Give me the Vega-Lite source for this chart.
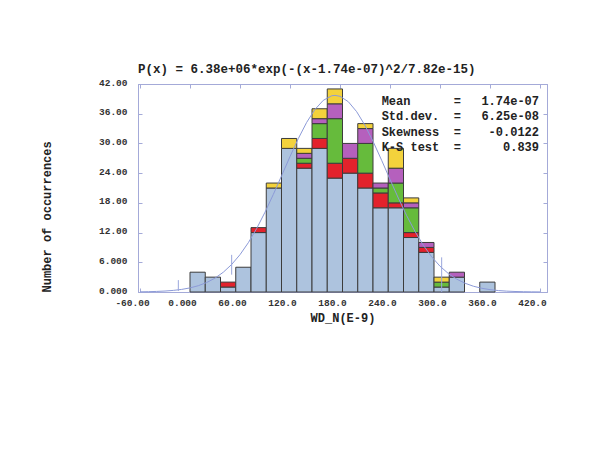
{
  "$schema": "https://vega.github.io/schema/vega-lite/v6.json",
  "width": 409,
  "height": 208,
  "autosize": {"type": "none"},
  "padding": {"left": 138, "top": 84, "right": 67, "bottom": 163},
  "background": "white",
  "title": {
    "text": "P(x) = 6.38e+06*exp(-(x-1.74e-07)^2/7.82e-15)",
    "anchor": "start",
    "frame": "group",
    "font": "Liberation Mono",
    "fontSize": 12.5,
    "fontWeight": "bold",
    "color": "#222222",
    "offset": 2
  },
  "config": {
    "view": {"stroke": "#a4aad8", "strokeWidth": 1},
    "axis": {
      "grid": false,
      "domainColor": "#a4aad8",
      "tickColor": "#a4aad8",
      "labelFont": "Liberation Mono",
      "labelFontSize": 9.5,
      "labelFontWeight": "bold",
      "labelColor": "#333333",
      "titleFont": "Liberation Mono",
      "titleFontSize": 12,
      "titleFontWeight": "bold",
      "titleColor": "#222222"
    }
  },
  "datasets": {
    "bars": [
      {"bin_start": 0, "bin_end": 18.3, "series": "A", "count": 4},
      {"bin_start": 18.3, "bin_end": 36.6, "series": "A", "count": 3},
      {"bin_start": 36.6, "bin_end": 54.9, "series": "A", "count": 1},
      {"bin_start": 36.6, "bin_end": 54.9, "series": "B", "count": 1},
      {"bin_start": 54.9, "bin_end": 73.2, "series": "A", "count": 5},
      {"bin_start": 73.2, "bin_end": 91.5, "series": "A", "count": 12},
      {"bin_start": 73.2, "bin_end": 91.5, "series": "B", "count": 1},
      {"bin_start": 91.5, "bin_end": 109.8, "series": "A", "count": 21},
      {"bin_start": 91.5, "bin_end": 109.8, "series": "E", "count": 1},
      {"bin_start": 109.8, "bin_end": 128.1, "series": "A", "count": 29},
      {"bin_start": 109.8, "bin_end": 128.1, "series": "E", "count": 2},
      {"bin_start": 128.1, "bin_end": 146.4, "series": "A", "count": 25},
      {"bin_start": 128.1, "bin_end": 146.4, "series": "B", "count": 1},
      {"bin_start": 128.1, "bin_end": 146.4, "series": "C", "count": 1},
      {"bin_start": 128.1, "bin_end": 146.4, "series": "D", "count": 1},
      {"bin_start": 128.1, "bin_end": 146.4, "series": "E", "count": 1},
      {"bin_start": 146.4, "bin_end": 164.7, "series": "A", "count": 29},
      {"bin_start": 146.4, "bin_end": 164.7, "series": "B", "count": 2},
      {"bin_start": 146.4, "bin_end": 164.7, "series": "C", "count": 3},
      {"bin_start": 146.4, "bin_end": 164.7, "series": "D", "count": 1},
      {"bin_start": 146.4, "bin_end": 164.7, "series": "E", "count": 2},
      {"bin_start": 164.7, "bin_end": 183, "series": "A", "count": 23},
      {"bin_start": 164.7, "bin_end": 183, "series": "B", "count": 3},
      {"bin_start": 164.7, "bin_end": 183, "series": "C", "count": 9},
      {"bin_start": 164.7, "bin_end": 183, "series": "D", "count": 3},
      {"bin_start": 164.7, "bin_end": 183, "series": "E", "count": 3},
      {"bin_start": 183, "bin_end": 201.3, "series": "A", "count": 24},
      {"bin_start": 183, "bin_end": 201.3, "series": "B", "count": 3},
      {"bin_start": 183, "bin_end": 201.3, "series": "D", "count": 3},
      {"bin_start": 201.3, "bin_end": 219.6, "series": "A", "count": 21},
      {"bin_start": 201.3, "bin_end": 219.6, "series": "B", "count": 3},
      {"bin_start": 201.3, "bin_end": 219.6, "series": "C", "count": 6},
      {"bin_start": 201.3, "bin_end": 219.6, "series": "D", "count": 3},
      {"bin_start": 201.3, "bin_end": 219.6, "series": "E", "count": 1},
      {"bin_start": 219.6, "bin_end": 237.9, "series": "A", "count": 17},
      {"bin_start": 219.6, "bin_end": 237.9, "series": "B", "count": 3},
      {"bin_start": 219.6, "bin_end": 237.9, "series": "C", "count": 1},
      {"bin_start": 219.6, "bin_end": 237.9, "series": "D", "count": 1},
      {"bin_start": 237.9, "bin_end": 256.2, "series": "A", "count": 17},
      {"bin_start": 237.9, "bin_end": 256.2, "series": "B", "count": 1},
      {"bin_start": 237.9, "bin_end": 256.2, "series": "C", "count": 4},
      {"bin_start": 237.9, "bin_end": 256.2, "series": "D", "count": 3},
      {"bin_start": 237.9, "bin_end": 256.2, "series": "E", "count": 4},
      {"bin_start": 256.2, "bin_end": 274.5, "series": "A", "count": 11},
      {"bin_start": 256.2, "bin_end": 274.5, "series": "B", "count": 1},
      {"bin_start": 256.2, "bin_end": 274.5, "series": "C", "count": 5},
      {"bin_start": 256.2, "bin_end": 274.5, "series": "D", "count": 1},
      {"bin_start": 256.2, "bin_end": 274.5, "series": "E", "count": 1},
      {"bin_start": 274.5, "bin_end": 292.8, "series": "A", "count": 8},
      {"bin_start": 274.5, "bin_end": 292.8, "series": "B", "count": 1},
      {"bin_start": 274.5, "bin_end": 292.8, "series": "D", "count": 1},
      {"bin_start": 292.8, "bin_end": 311.1, "series": "A", "count": 1},
      {"bin_start": 292.8, "bin_end": 311.1, "series": "C", "count": 1},
      {"bin_start": 292.8, "bin_end": 311.1, "series": "E", "count": 1},
      {"bin_start": 311.1, "bin_end": 329.4, "series": "A", "count": 3},
      {"bin_start": 311.1, "bin_end": 329.4, "series": "D", "count": 1},
      {"bin_start": 347.7, "bin_end": 366, "series": "A", "count": 2}
    ],
    "curve": [
      {"x": -60, "y": 0.036}, {"x": -50, "y": 0.065}, {"x": -40, "y": 0.114},
      {"x": -30, "y": 0.194}, {"x": -20, "y": 0.323}, {"x": -10, "y": 0.523},
      {"x": 0, "y": 0.827}, {"x": 10, "y": 1.274}, {"x": 20, "y": 1.912},
      {"x": 30, "y": 2.8}, {"x": 40, "y": 4.0}, {"x": 50, "y": 5.56},
      {"x": 60, "y": 7.54}, {"x": 70, "y": 9.96}, {"x": 80, "y": 12.82},
      {"x": 90, "y": 16.11}, {"x": 100, "y": 19.71}, {"x": 110, "y": 23.51},
      {"x": 120, "y": 27.34}, {"x": 130, "y": 30.99}, {"x": 140, "y": 34.25},
      {"x": 150, "y": 36.88}, {"x": 160, "y": 38.71}, {"x": 170, "y": 39.62},
      {"x": 174, "y": 39.7}, {"x": 180, "y": 39.52}, {"x": 190, "y": 38.42},
      {"x": 200, "y": 36.41}, {"x": 210, "y": 33.64}, {"x": 220, "y": 30.29},
      {"x": 230, "y": 26.59}, {"x": 240, "y": 22.74}, {"x": 250, "y": 18.97},
      {"x": 260, "y": 15.42}, {"x": 270, "y": 12.22}, {"x": 280, "y": 9.44},
      {"x": 290, "y": 7.11}, {"x": 300, "y": 5.21}, {"x": 310, "y": 3.73},
      {"x": 320, "y": 2.6}, {"x": 330, "y": 1.77}, {"x": 340, "y": 1.17},
      {"x": 350, "y": 0.756}, {"x": 360, "y": 0.476}, {"x": 370, "y": 0.292},
      {"x": 380, "y": 0.175}, {"x": 390, "y": 0.102}, {"x": 400, "y": 0.058},
      {"x": 410, "y": 0.032}, {"x": 420, "y": 0.017}
    ],
    "markers": [
      {"x": -14, "lo": 0.2, "hi": 2.4},
      {"x": 50, "lo": 3.5, "hi": 7.5},
      {"x": 302, "lo": 0, "hi": 7}
    ],
    "stats": [
      {"Mean": "1.74e-07", "Std.dev.": "6.25e-08", "Skewness": "-0.0122", "K-S test": "0.839"}
    ]
  },
  "layer": [
    {
      "data": {"name": "bars"},
      "transform": [
        {"stack": "count", "groupby": ["bin_start"], "sort": [{"field": "series"}], "as": ["c0", "c1"]}
      ],
      "mark": {"type": "rect", "stroke": "#3c3c3c", "strokeWidth": 1},
      "encoding": {
        "x": {
          "field": "bin_start",
          "type": "quantitative",
          "scale": {"domain": [-62.4, 428.4], "nice": false, "zero": false},
          "axis": {
            "values": [-60, 0, 60, 120, 180, 240, 300, 360, 420],
            "labelExpr": "(datum.value < 0 ? '-' : '') + (abs(datum.value) < 10 ? format(abs(datum.value), '.3f') : abs(datum.value) < 100 ? format(abs(datum.value), '.2f') : format(abs(datum.value), '.1f'))",
            "tickSize": -4,
            "labelPadding": 9,
            "labelOffset": -8,
            "title": "WD_N(E-9)",
            "titlePadding": 6
          }
        },
        "x2": {"field": "bin_end"},
        "y": {
          "field": "c1",
          "type": "quantitative",
          "scale": {"domain": [0, 42], "nice": false},
          "axis": {
            "values": [0, 6, 12, 18, 24, 30, 36, 42],
            "labelExpr": "abs(datum.value) < 10 ? format(datum.value, '.3f') : format(datum.value, '.2f')",
            "tickSize": -4,
            "labelPadding": 15,
            "labelOffset": -2,
            "title": "Number of occurrences",
            "titleAnchor": "start",
            "titlePadding": 45
          }
        },
        "y2": {"field": "c0"},
        "color": {
          "field": "series",
          "type": "nominal",
          "scale": {"domain": ["A", "B", "C", "D", "E"], "range": ["#adc3de", "#e3222c", "#66bb3c", "#b560bd", "#f3d23c"]},
          "legend": null
        }
      }
    },
    {
      "data": {"name": "curve"},
      "mark": {"type": "line", "color": "#8c9ad8", "strokeWidth": 1},
      "encoding": {
        "x": {
          "field": "x",
          "type": "quantitative",
          "axis": {"orient": "top", "values": [-60, 0, 60, 120, 180, 240, 300, 360, 420], "labels": false, "tickSize": -4, "title": null}
        },
        "y": {
          "field": "y",
          "type": "quantitative",
          "axis": {"orient": "right", "values": [0, 6, 12, 18, 24, 30, 36, 42], "labels": false, "tickSize": -4, "title": null}
        }
      }
    },
    {
      "data": {"name": "markers"},
      "mark": {"type": "rule", "color": "#9aa6dc", "strokeWidth": 1},
      "encoding": {
        "x": {"field": "x", "type": "quantitative", "axis": null},
        "y": {"field": "lo", "type": "quantitative", "axis": null},
        "y2": {"field": "hi"}
      }
    },
    {
      "data": {"name": "stats"},
      "mark": {
        "type": "text",
        "text": ["Mean\u00a0\u00a0\u00a0\u00a0\u00a0\u00a0=", "Std.dev.\u00a0\u00a0=", "Skewness\u00a0\u00a0=", "K-S\u00a0test\u00a0\u00a0="],
        "align": "left",
        "baseline": "top",
        "lineHeight": 15.5,
        "font": "Liberation Mono",
        "fontSize": 12,
        "fontWeight": "bold",
        "color": "#222222"
      },
      "encoding": {
        "x": {"datum": 230, "type": "quantitative", "axis": null},
        "y": {"datum": 39.6, "type": "quantitative", "axis": null}
      }
    },
    {
      "data": {"name": "stats"},
      "mark": {
        "type": "text",
        "text": ["1.74e-07", "6.25e-08", "-0.0122", "0.839"],
        "align": "right",
        "baseline": "top",
        "lineHeight": 15.5,
        "font": "Liberation Mono",
        "fontSize": 12,
        "fontWeight": "bold",
        "color": "#222222"
      },
      "encoding": {
        "x": {"datum": 418.8, "type": "quantitative", "axis": null},
        "y": {"datum": 39.6, "type": "quantitative", "axis": null}
      }
    }
  ],
  "resolve": {"axis": {"x": "independent", "y": "independent"}}
}
